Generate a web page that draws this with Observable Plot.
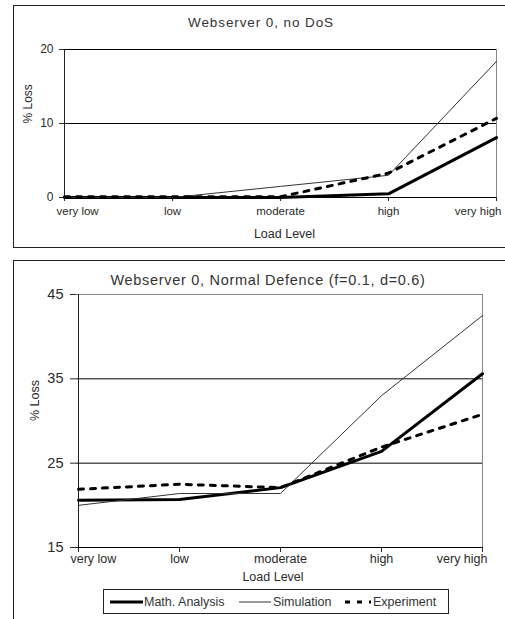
<!DOCTYPE html>
<html>
<head>
<meta charset="utf-8">
<script src="https://cdn.jsdelivr.net/npm/d3@7"></script>
<script src="https://cdn.jsdelivr.net/npm/@observablehq/plot@0.6"></script>
<style>
  html, body { margin: 0; padding: 0; background: #fff; }
  body { width: 505px; height: 619px; overflow: hidden; position: relative; font-family: "Liberation Sans", Arial, sans-serif; color: #222; }
  .box { position: absolute; box-sizing: border-box; border: 1px solid #222; }
  .title { position: absolute; transform: translate(-50%, -50%); white-space: nowrap; color: #333; }
  .chart { position: absolute; }
  .chart svg { max-width: none; overflow: visible; }
  .legend { position: absolute; box-sizing: border-box; border: 1px solid #222; font-size: 12.5px; background: #fff; color: #333; }
  .legend span, .legend svg { position: absolute; }
  .legend span { top: 50%; transform: translateY(-50%); white-space: nowrap; }
</style>
</head>
<body>
<div class="box" style="left:13px; top:5px; width:510px; height:243px;"></div>
<div class="title" id="t1" style="left:261px; top:22px; font-size:13.5px; letter-spacing:0.9px;"></div>
<div class="chart" id="c1" style="left:14px; top:6px;"></div>

<div class="box" style="left:13px; top:260px; width:510px; height:400px;"></div>
<div class="title" id="t2" style="left:268px; top:280px; font-size:14.5px; letter-spacing:0.7px;"></div>
<div class="chart" id="c2" style="left:14px; top:261px;"></div>
<div class="legend" id="lg" style="left:103px; top:589px; width:346px; height:25px;"></div>

<script>
// ---- data ----
const loadLevels = ["very low", "low", "moderate", "high", "very high"];
const seriesNames = ["Math. Analysis", "Simulation", "Experiment"];

const title1 = "Webserver 0, no DoS";
const noDosMath = [0, 0, 0, 0.5, 8.1];
const noDosSim  = [0, 0, 1.5, 3.0, 18.4];
const noDosExp  = [0.1, 0.1, 0.1, 3.3, 10.7];
const noDosTicks = [0, 10, 20];

const title2 = "Webserver 0, Normal Defence (f=0.1, d=0.6)";
const defMath = [20.6, 20.7, 22.1, 26.4, 35.6];
const defSim  = [20.0, 21.4, 21.4, 33.0, 42.5];
const defExp  = [21.9, 22.5, 22.1, 26.9, 30.8];
const defTicks = [15, 25, 35, 45];

const yLabel = "% Loss";
const xLabel = "Load Level";

// ---- styles per series ----
const seriesStyle = {
  "Math. Analysis": {stroke: "#000", strokeWidth: 3},
  "Simulation": {stroke: "#333", strokeWidth: 1},
  "Experiment": {stroke: "#000", strokeWidth: 3, strokeDasharray: "5,7"}
};

function rows(vals) { return loadLevels.map((l, i) => ({level: l, value: vals[i]})); }

function makeChart(cfg) {
  const series = [cfg.math, cfg.sim, cfg.exp];
  const ticks = cfg.ticks;
  const lo = ticks[0], hi = ticks[ticks.length - 1];
  const first = loadLevels[0], last = loadLevels[loadLevels.length - 1];
  return Plot.plot({
    width: cfg.width, height: cfg.height,
    marginLeft: cfg.ml, marginRight: cfg.mr, marginTop: cfg.mt, marginBottom: cfg.mb,
    style: {fontFamily: "'Liberation Sans', Arial, sans-serif", fontSize: cfg.fs + "px", color: "#2a2a2a", background: "transparent", overflow: "visible"},
    x: {type: "point", domain: loadLevels, padding: 0, axis: null},
    y: {domain: [lo, hi], axis: null},
    marks: [
      Plot.ruleY(ticks.slice(1, -1), {stroke: "#000", strokeWidth: 1}),
      Plot.ruleY([hi], {stroke: cfg.topColor, strokeWidth: 1}),
      Plot.ruleX([last], {stroke: "#888", strokeWidth: 1}),
      Plot.axisY({ticks: ticks, tickSize: cfg.ytick, tickPadding: cfg.ypad, label: null, fontSize: cfg.yfs, tickFormat: d => String(d)}),
      Plot.axisX({tickSize: cfg.xtick, tickFormat: () => "", label: null}),
      Plot.ruleX([first], {stroke: "#222", strokeWidth: 1}),
      Plot.ruleY([lo], {stroke: "#000", strokeWidth: 1}),
      ...seriesNames.map((name, k) => Plot.lineY(rows(series[k]), {x: "level", y: "value", ...seriesStyle[name]})),
      Plot.text(loadLevels.slice(1, -1), {x: d => d, frameAnchor: "bottom", dy: cfg.xdy, fontSize: cfg.xfs}),
      Plot.text([first], {x: d => d, frameAnchor: "bottom", dy: cfg.xdy, dx: -8, textAnchor: "start", fontSize: cfg.xfs}),
      Plot.text([last], {x: d => d, frameAnchor: "bottom", dy: cfg.xdy, dx: 5, textAnchor: "end", fontSize: cfg.xfs}),
      Plot.text([xLabel], {frameAnchor: "bottom", dy: cfg.xldy, dx: cfg.xldx, fontSize: cfg.xlfs}),
      Plot.text([yLabel], {frameAnchor: "left", dx: cfg.yldx, rotate: -90, fontSize: cfg.ylfs})
    ]
  });
}

document.getElementById("t1").textContent = title1;
document.getElementById("t2").textContent = title2;

const c1 = makeChart({
  math: noDosMath, sim: noDosSim, exp: noDosExp, ticks: noDosTicks,
  width: 497, height: 240, ml: 50, mr: 15, mt: 43, mb: 49,
  fs: 12, yfs: 12, xfs: 11.5, xlfs: 12.5, ylfs: 12,
  ytick: 5, ypad: 6, xtick: 4, xdy: 17, xldy: 40, xldx: 4, yldx: -36,
  topColor: "#000"
});
const c2 = makeChart({
  math: defMath, sim: defSim, exp: defExp, ticks: defTicks,
  width: 497, height: 329, ml: 62, mr: 28, mt: 33, mb: 43,
  fs: 12.5, yfs: 14.5, xfs: 12.5, xlfs: 12.5, ylfs: 12.5,
  ytick: 6, ypad: 7, xtick: 5, xdy: 15, xldy: 33, xldx: -7, yldx: -42,
  topColor: "#888"
});
document.getElementById("c1").appendChild(c1);
document.getElementById("c2").appendChild(c2);

// legend
const lg = document.getElementById("lg");
const ns = "http://www.w3.org/2000/svg";
const legendLayout = [
  {sw: 6, sww: 33, tx: 40},
  {sw: 135, sww: 32, tx: 169},
  {sw: 241, sww: 26, tx: 269}
];
seriesNames.forEach((name, k) => {
  const L = legendLayout[k];
  const svg = document.createElementNS(ns, "svg");
  svg.setAttribute("width", L.sww); svg.setAttribute("height", 10);
  svg.style.left = L.sw + "px"; svg.style.top = "7px";
  const ln = document.createElementNS(ns, "line");
  ln.setAttribute("x1", 0); ln.setAttribute("x2", L.sww);
  ln.setAttribute("y1", 5); ln.setAttribute("y2", 5);
  const st = seriesStyle[name];
  ln.setAttribute("stroke", st.stroke);
  ln.setAttribute("stroke-width", st.strokeWidth);
  if (st.strokeDasharray) ln.setAttribute("stroke-dasharray", st.strokeDasharray);
  svg.appendChild(ln);
  lg.appendChild(svg);
  const sp = document.createElement("span");
  sp.textContent = name;
  sp.style.left = L.tx + "px";
  lg.appendChild(sp);
});
</script>
</body>
</html>
